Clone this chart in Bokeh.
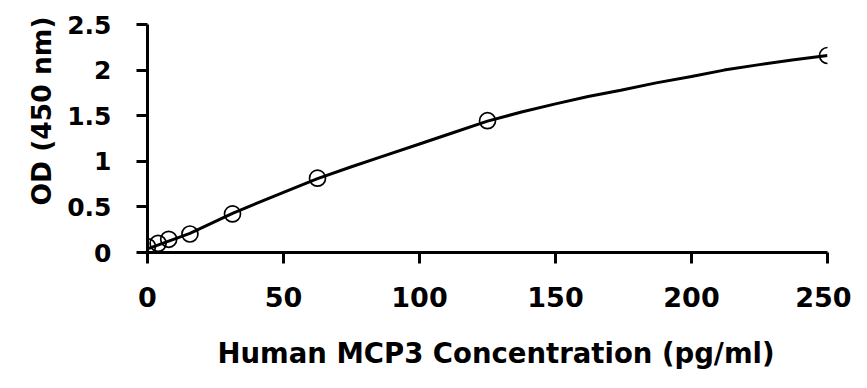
from bokeh.plotting import figure
from bokeh.models import Range1d, FixedTicker, Title
from bokeh.embed import file_html
from bokeh.resources import INLINE

# Standard points (concentration pg/ml, OD 450 nm)
conc = [0, 3.9, 7.8, 15.6, 31.25, 62.5, 125, 250]
od = [0.065, 0.10, 0.145, 0.203, 0.423, 0.815, 1.445, 2.16]

# Fitted curve
curve_x = [0, 15.6, 31.25, 50, 62.5, 75, 85, 100, 112, 125, 137.5, 150,
           162, 174, 187, 200, 212, 225, 237, 250]
curve_y = [0.04, 0.21, 0.43, 0.66, 0.81, 0.94, 1.04, 1.19, 1.31, 1.44, 1.54, 1.63,
           1.71, 1.78, 1.86, 1.93, 2.00, 2.06, 2.11, 2.16]

x_ticks = [0, 50, 100, 150, 200, 250]
y_ticks = [0, 0.5, 1, 1.5, 2, 2.5]

FONT = "DejaVu Sans"

p = figure(frame_width=680, frame_height=228,
           min_border_left=147, min_border_right=24,
           min_border_top=24, min_border_bottom=126,
           x_range=Range1d(0, 250), y_range=Range1d(0, 2.5),
           output_backend="svg", toolbar_location=None)

p.outline_line_color = None
p.grid.grid_line_color = None
p.background_fill_color = "white"

p.line(curve_x, curve_y, line_color="black", line_width=3)
p.scatter(conc, od, size=16, marker="circle", fill_alpha=0,
          line_color="black", line_width=1.7)

for ax in (p.xaxis[0], p.yaxis[0]):
    ax.axis_line_width = 3
    ax.major_tick_line_width = 3
    ax.major_tick_in = 0
    ax.major_tick_out = 11
    ax.minor_tick_line_color = None
    ax.major_label_text_font = FONT
    ax.major_label_text_font_style = "bold"
    ax.major_label_text_color = "black"

p.xaxis[0].major_label_text_font_size = "27px"
p.yaxis[0].major_label_text_font_size = "25px"
p.xaxis[0].ticker = FixedTicker(ticks=x_ticks)
p.yaxis[0].ticker = FixedTicker(ticks=y_ticks)
p.yaxis[0].major_label_overrides = {0: "0", 0.5: "0.5", 1: "1", 1.5: "1.5", 2: "2", 2.5: "2.5"}
p.xaxis[0].major_label_standoff = 23
p.yaxis[0].major_label_standoff = 25

x_title = Title(text="Human MCP3 Concentration (pg/ml)", align="left", offset=70,
                standoff=50, text_font=FONT, text_font_style="bold",
                text_font_size="27.5px", text_color="black")
y_title = Title(text="OD (450 nm)", align="left", offset=47,
                standoff=15, text_font=FONT, text_font_style="bold",
                text_font_size="26.5px", text_color="black")
p.add_layout(x_title, "below")
p.add_layout(y_title, "left")

open("out.html", "w").write(file_html(p, INLINE))
